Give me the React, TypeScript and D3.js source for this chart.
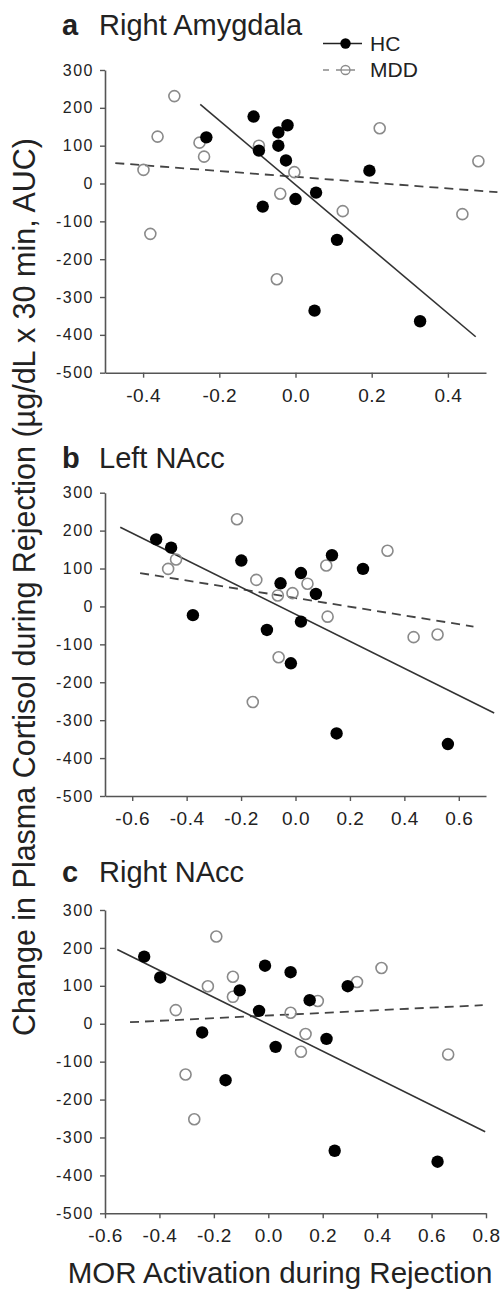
import * as d3 from "d3";
import { useEffect, useRef } from "react";

// values: [MOR activation, cortisol change]
const amygdalaHC = [[-0.234, 122], [-0.110, 177], [-0.096, 87], [-0.045, 135], [-0.021, 154], [-0.045, 100], [-0.025, 61], [0.194, 34], [0.054, -24], [-0.086, -61], [0.0, -41], [0.109, -149], [0.050, -336], [0.327, -364]];
const amygdalaMDD = [[-0.399, 36], [-0.362, 124], [-0.318, 231], [-0.252, 108], [-0.240, 71], [-0.096, 100], [-0.003, 30], [-0.040, -27], [0.221, 146], [0.480, 59], [-0.381, -133], [0.124, -73], [0.438, -81], [-0.049, -253]];
const amygdalaFitHC = [[-0.25, 209], [0.473, -405]];
const amygdalaFitMDD = [[-0.473, 54], [0.53, -23]];

const leftNaccHC = [[-0.512, 177], [-0.457, 155], [-0.199, 121], [-0.055, 61], [0.020, 88], [0.075, 33], [0.134, 135], [0.248, 99], [-0.377, -23], [-0.105, -62], [0.020, -40], [-0.017, -150], [0.151, -335], [0.560, -363]];
const leftNaccMDD = [[-0.468, 99], [-0.439, 124], [-0.215, 230], [-0.144, 70], [-0.065, 29], [-0.011, 35], [0.044, 60], [0.113, 108], [0.338, 147], [0.118, -27], [0.434, -81], [0.522, -74], [-0.062, -134], [-0.157, -252]];
const leftNaccFitHC = [[-0.644, 209], [0.730, -281]];
const leftNaccFitMDD = [[-0.571, 88], [0.654, -53]];

const rightNaccHC = [[-0.456, 177], [-0.397, 122], [-0.105, 88], [-0.012, 153], [-0.034, 34], [0.082, 136], [0.152, 62], [0.292, 99], [-0.243, -23], [-0.157, -149], [0.027, -61], [0.214, -40], [0.244, -335], [0.622, -364]];
const rightNaccMDD = [[-0.191, 230], [-0.340, 36], [-0.222, 99], [-0.130, 124], [-0.130, 71], [0.082, 29], [0.182, 60], [0.326, 110], [0.416, 147], [0.137, -27], [0.120, -74], [-0.304, -134], [-0.272, -252], [0.661, -81]];
const rightNaccFitHC = [[-0.555, 196], [0.797, -285]];
const rightNaccFitMDD = [[-0.508, 4], [0.788, 49]];

const yTicks = [300, 200, 100, 0, -100, -200, -300, -400, -500];
const xTicksA = [-0.4, -0.2, 0.0, 0.2, 0.4];
const xTicksB = [-0.6, -0.4, -0.2, 0.0, 0.2, 0.4, 0.6];
const xTicksC = [-0.6, -0.4, -0.2, 0.0, 0.2, 0.4, 0.6, 0.8];
const groups = ["HC", "MDD"];

const font = "'Liberation Sans', Arial, sans-serif";
// plain hyphen instead of d3's unicode minus, like the original figure
const fmtX = (d: number) => d3.format(".1f")(d).replace("\u2212", "-");
const fmtY = (d: number) => d3.format("d")(d).replace("\u2212", "-");

const panels = [
  { letter: "a", name: "Right Amygdala", xDomain: [-0.5, 0.5], xTicks: xTicksA, hc: amygdalaHC, mdd: amygdalaMDD, fitHC: amygdalaFitHC, fitMDD: amygdalaFitMDD, top: 70, bottom: 372.7, titleY: 35, legend: true },
  { letter: "b", name: "Left NAcc", xDomain: [-0.7, 0.7], xTicks: xTicksB, hc: leftNaccHC, mdd: leftNaccMDD, fitHC: leftNaccFitHC, fitMDD: leftNaccFitMDD, top: 492.7, bottom: 796, titleY: 468, legend: false },
  { letter: "c", name: "Right NAcc", xDomain: [-0.6, 0.8], xTicks: xTicksC, hc: rightNaccHC, mdd: rightNaccMDD, fitHC: rightNaccFitHC, fitMDD: rightNaccFitMDD, top: 910, bottom: 1213.3, titleY: 881.5, legend: false },
];

const App = () => {
  const ref = useRef<SVGSVGElement>(null);

  useEffect(() => {
    const svg = d3.select(ref.current);
    svg.selectAll("*").remove();

    panels.forEach((p) => {
      const x = d3.scaleLinear().domain(p.xDomain).range([105, 486]);
      const y = d3.scaleLinear().domain([-500, 300]).range([p.bottom, p.top]);
      const g = svg.append("g");

      // title
      const t = g.append("text").attr("x", 62).attr("y", p.titleY)
        .attr("font-family", font).attr("font-size", 29).attr("fill", "#222");
      t.append("tspan").attr("font-weight", "bold").text(p.letter);
      t.append("tspan").attr("x", 99).text(p.name);

      // axes
      const yAxis = d3.axisLeft(y).tickValues(yTicks).tickSize(5).tickSizeOuter(0).tickFormat(fmtY as any);
      const xAxis = d3.axisBottom(x).tickValues(p.xTicks).tickSize(5).tickSizeOuter(0).tickFormat(fmtX as any);

      const ya = g.append("g").attr("transform", `translate(105,0)`).call(yAxis);
      ya.selectAll("text").attr("x", -11).attr("font-size", 16).attr("letter-spacing", 1.5)
        .attr("font-family", font).attr("fill", "#222");
      const xa = g.append("g").attr("transform", `translate(0,${p.bottom})`).call(xAxis);
      xa.selectAll("text").attr("y", 29).attr("dy", 0).attr("font-size", 19).attr("letter-spacing", 0.5)
        .attr("font-family", font).attr("fill", "#222");
      [ya, xa].forEach((a) => {
        a.select(".domain").attr("stroke", "#555").attr("stroke-width", 1.6);
        a.selectAll(".tick line").attr("stroke", "#555").attr("stroke-width", 1.4);
      });

      // fit lines
      const line = d3.line<number[]>().x((d) => x(d[0])).y((d) => y(d[1]));
      g.append("path").datum(p.fitMDD).attr("d", line).attr("fill", "none")
        .attr("stroke", "#444").attr("stroke-width", 1.8).attr("stroke-dasharray", "9,6");
      g.append("path").datum(p.fitHC).attr("d", line).attr("fill", "none")
        .attr("stroke", "#333").attr("stroke-width", 1.6);

      // points
      g.selectAll(".mdd").data(p.mdd).join("circle").attr("class", "mdd")
        .attr("cx", (d) => x(d[0])).attr("cy", (d) => y(d[1])).attr("r", 5.5)
        .attr("fill", "none").attr("stroke", "#8a8a8a").attr("stroke-width", 1.6);
      g.selectAll(".hc").data(p.hc).join("circle").attr("class", "hc")
        .attr("cx", (d) => x(d[0])).attr("cy", (d) => y(d[1])).attr("r", 6.2)
        .attr("fill", "#000");

      if (p.legend) {
        const lg = g.append("g");
        groups.forEach((name, i) => {
          const ly = 43.5 + i * 26.5;
          lg.append("line").attr("x1", 323).attr("x2", 362).attr("y1", ly).attr("y2", ly)
            .attr("stroke", i ? "#8a8a8a" : "#222").attr("stroke-width", 1.5)
            .attr("stroke-dasharray", i ? "6,7" : null);
          lg.append("circle").attr("cx", 345.5).attr("cy", ly).attr("r", i ? 4.5 : 5.2)
            .attr("fill", i ? "#fff" : "#000").attr("stroke", i ? "#8a8a8a" : "none").attr("stroke-width", 1.3);
          if (i) lg.append("line").attr("x1", 341).attr("x2", 350).attr("y1", ly).attr("y2", ly)
            .attr("stroke", "#8a8a8a").attr("stroke-width", 1.3);
          lg.append("text").attr("x", 370).attr("y", ly + 7).text(name)
            .attr("font-family", font).attr("font-size", 21).attr("fill", "#222");
        });
      }
    });

    // shared axis titles
    svg.append("text").attr("transform", "translate(35,587) rotate(-90)").attr("text-anchor", "middle")
      .attr("font-family", font).attr("font-size", 30.5).attr("fill", "#222")
      .text("Change in Plasma Cortisol during Rejection (\u00b5g/dL x 30 min, AUC)");
    svg.append("text").attr("x", 280).attr("y", 1283).attr("text-anchor", "middle")
      .attr("font-family", font).attr("font-size", 29.5).attr("fill", "#222")
      .text("MOR Activation during Rejection");
  }, []);

  return (
    <svg ref={ref} width={500} height={1295}
      style={{ position: "absolute", left: 0, top: 0, background: "#fff" }} />
  );
};

export default App;
